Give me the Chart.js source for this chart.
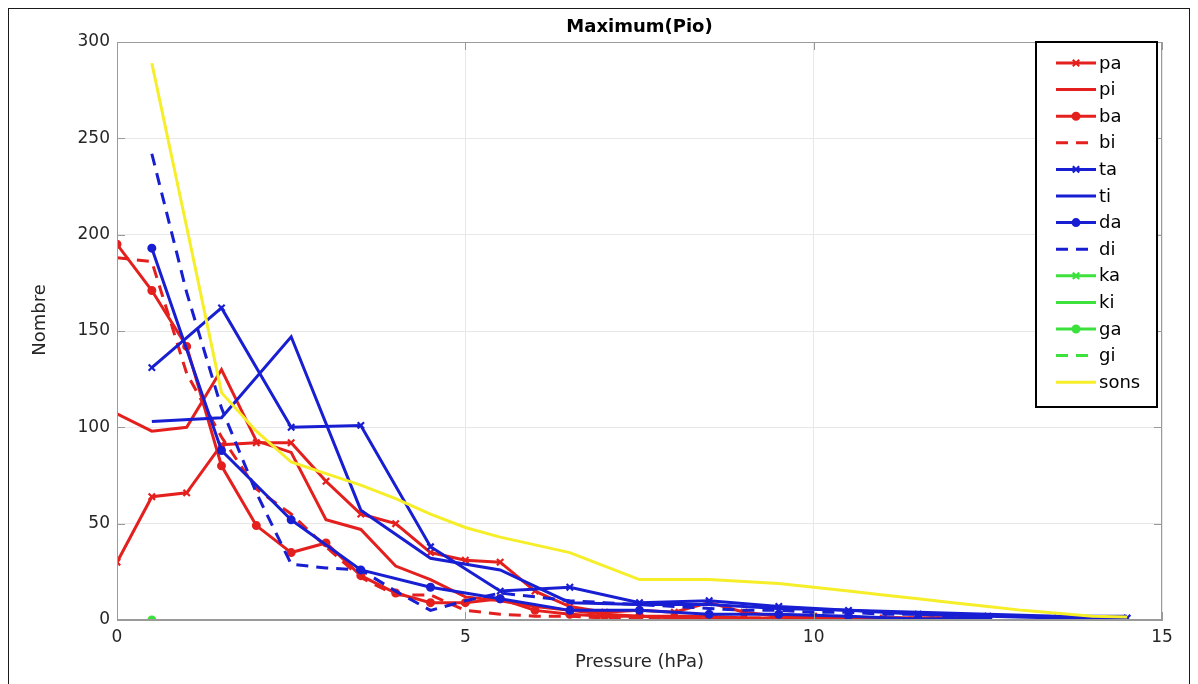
<!DOCTYPE html>
<html><head><meta charset="utf-8">
<script src="https://cdn.jsdelivr.net/npm/chart.js@4/dist/chart.umd.min.js"></script>
<style>
html,body{margin:0;padding:0;background:#fff;overflow:hidden}
#wrap{position:relative;width:1198px;height:684px}
#frame{position:absolute;left:8px;top:8px;width:1180px;height:700px;border:1.5px solid #1a1a1a;pointer-events:none}
</style></head><body>
<div id="wrap"><canvas id="c" width="1198" height="684"></canvas><div id="frame"></div></div>
<script>
// ---- data ----
const chartTitle = 'Maximum(Pio)';
const xLabel = 'Pressure (hPa)';
const yLabel = 'Nombre';
const xTicks = [0, 5, 10, 15];
const yTicks = [0, 50, 100, 150, 200, 250, 300];

const xHalf0 = [0,0.5,1,1.5,2,2.5,3,3.5,4,4.5,5,5.5,6,6.5,7,7.5,8,8.5,9,9.5,10,10.5,11,11.5,12,12.5];
const xBa    = [0,0.5,1,1.5,2,2.5,3,3.5,4,4.5,5,5.5,6,6.5,7,7.5,8,8.5,9,9.5,10,10.5];
const xOdd   = [0.5,1.5,2.5,3.5,4.5,5.5,6.5,7.5,8.5,9.5,10.5,11.5,12.5,13.5,14.5];
const xDa    = [0.5,1.5,2.5,3.5,4.5,5.5,6.5,7.5,8.5,9.5,10.5,11.5,12.5];
const xDi    = [0.5,1,1.5,2,2.5,3,3.5,4,4.5,5,5.5,6,6.5,7,7.5,8,8.5,9,9.5,10,10.5,11,11.5,12,12.5];
const xSons  = [0.5,1,1.5,2,2.5,3,3.5,4,4.5,5,5.5,6,6.5,7,7.5,8,8.5,9,9.5,10,10.5,11,11.5,12,12.5,13,13.5,14,14.5];
const xGa    = [0.5];

const paVals   = [30,64,66,91,92,92,72,55,50,35,31,30,15,7,4,5,4,9,4,2,2,1,1,1,1,1];
const piVals   = [107,98,100,130,93,87,52,47,28,21,12,10,7,5,3,2,2,2,1,1,1,1,1,1,1,1];
const baVals   = [195,171,142,80,49,35,40,23,14,9,9,11,5,3,2,2,1,0.5,0.5,0.5,0.5,0.5];
const biVals   = [188,186,128,95,68,55,38,22,13,13,5,3,2,2,1,1,1,1,1,1,1,1,1,1,1,1];
const taVals   = [131,162,100,101,38,15,17,9,10,7,5,3,2,1,1];
const tiVals   = [103,105,147,57,32,26,9,8,8,6,5,4,3,2,2];
const daVals   = [193,88,52,26,17,11,5,5,3,3,2,0.5,1];
const diVals   = [242,170,110,66,29,27,26,15,5,10,14,12,10,9,8,7,6,5,5,4,4,3,3,2,2];
const kaVals   = [];
const kiVals   = [];
const gaVals   = [0];
const giVals   = [];
const sonsVals = [289,204,118,98,82,76,70,63,55,48,43,39,35,28,21,21,21,20,19,17,15,13,11,9,7,5,3.5,2,1.5];

// ---- styles ----
const RED = 'rgb(228,32,30)', BLUE = 'rgb(24,30,210)', GREEN = 'rgb(60,225,60)', YELLOW = 'rgb(246,238,40)';
const FONT = "'DejaVu Sans', sans-serif";
const pts = (xs, ys) => ys.map((y, i) => ({x: xs[i], y}));

const specs = [
  ['pa', xHalf0, paVals, RED, 'crossRot', false],
  ['pi', xHalf0, piVals, RED, false, false],
  ['ba', xBa, baVals, RED, 'circle', false],
  ['bi', xHalf0, biVals, RED, false, true],
  ['ta', xOdd, taVals, BLUE, 'crossRot', false],
  ['ti', xOdd, tiVals, BLUE, false, false],
  ['da', xDa, daVals, BLUE, 'circle', false],
  ['di', xDi, diVals, BLUE, false, true],
  ['ka', [], kaVals, GREEN, 'crossRot', false],
  ['ki', [], kiVals, GREEN, false, false],
  ['ga', xGa, gaVals, GREEN, 'circle', false],
  ['gi', [], giVals, GREEN, false, true],
  ['sons', xSons, sonsVals, YELLOW, false, false]
];

const datasets = specs.map(([label, xs, ys, color, marker, dashed], i) => ({
  label,
  data: pts(xs, ys),
  borderColor: color,
  backgroundColor: color,
  borderWidth: 3,
  borderDash: dashed ? [12, 8] : [],
  pointStyle: marker || 'circle',
  pointRadius: marker ? (marker === 'circle' ? 3.5 : 4.5) : 0,
  pointBorderWidth: marker === 'circle' ? 2 : 2.2,
  pointBackgroundColor: color,
  pointBorderColor: color,
  pointHoverRadius: 0,
  tension: 0,
  order: specs.length - 1 - i
}));

const decor = {
  id: 'decor',
  afterDraw(chart) {
    const {ctx, chartArea: a, scales: {x, y}} = chart;
    ctx.save();
    // box
    ctx.strokeStyle = '#9a9a9a'; ctx.lineWidth = 1; ctx.setLineDash([]);
    ctx.strokeRect(a.left + 0.5, a.top + 0.5, a.right - a.left - 1, a.bottom - a.top - 1);
    // inward ticks
    ctx.beginPath();
    yTicks.forEach(v => { const p = Math.round(y.getPixelForValue(v)) + 0.5;
      ctx.moveTo(a.left, p); ctx.lineTo(a.left + 8, p); ctx.moveTo(a.right, p); ctx.lineTo(a.right - 8, p); });
    xTicks.forEach(v => { const p = Math.round(x.getPixelForValue(v)) + 0.5;
      ctx.moveTo(p, a.bottom); ctx.lineTo(p, a.bottom - 8); ctx.moveTo(p, a.top); ctx.lineTo(p, a.top + 8); });
    ctx.stroke();
    // title
    ctx.fillStyle = '#000'; ctx.font = "bold 18px " + FONT; ctx.textAlign = 'center'; ctx.textBaseline = 'middle';
    ctx.fillText(chartTitle, (a.left + a.right) / 2, 27);
    // y axis label
    ctx.save();
    ctx.translate(40, 320); ctx.rotate(-Math.PI / 2);
    ctx.fillStyle = '#262626'; ctx.font = "18px " + FONT;
    ctx.fillText(yLabel, 0, 0);
    ctx.restore();
    // legend
    const L = 1036, T = 42, R = 1157, B = 407;
    ctx.fillStyle = '#fff'; ctx.fillRect(L, T, R - L, B - T);
    ctx.strokeStyle = '#000'; ctx.lineWidth = 2; ctx.strokeRect(L, T, R - L, B - T);
    chart.data.datasets.forEach((ds, i) => {
      const cy = 63 + i * 26.6;
      ctx.strokeStyle = ds.borderColor; ctx.lineWidth = 3; ctx.setLineDash(ds.borderDash);
      ctx.beginPath(); ctx.moveTo(1056, cy); ctx.lineTo(1096, cy); ctx.stroke();
      ctx.setLineDash([]);
      if (ds.pointRadius > 0) {
        ctx.fillStyle = ds.borderColor;
        ctx.lineWidth = ds.pointBorderWidth;
        Chart.helpers.drawPoint(ctx, {pointStyle: ds.pointStyle, radius: ds.pointRadius, borderWidth: ds.pointBorderWidth, rotation: 0}, 1076, cy);
      }
      ctx.fillStyle = '#000'; ctx.font = "18px " + FONT; ctx.textAlign = 'left'; ctx.textBaseline = 'middle';
      ctx.fillText(ds.label, 1099, cy + 1);
    });
    ctx.restore();
  }
};

new Chart(document.getElementById('c'), {
  type: 'line',
  data: {datasets},
  plugins: [decor],
  options: {
    responsive: false,
    devicePixelRatio: 1,
    animation: false,
    layout: {padding: {top: 42, right: 36, left: 0, bottom: 0}},
    plugins: {legend: {display: false}, tooltip: {enabled: false}, title: {display: false}},
    scales: {
      x: {
        type: 'linear', min: 0, max: 15,
        afterFit: s => { s.height = 64; },
        afterBuildTicks: s => { s.ticks = xTicks.map(v => ({value: v})); },
        ticks: {color: '#262626', font: {family: FONT, size: 17}, padding: 7, maxRotation: 0},
        grid: {color: '#e8e8e8', drawTicks: false},
        border: {color: '#9a9a9a'},
        title: {display: true, text: xLabel, color: '#262626', font: {family: FONT, size: 18}, padding: {top: 0, bottom: 11}}
      },
      y: {
        type: 'linear', min: 0, max: 300,
        afterFit: s => { s.width = 117; },
        afterBuildTicks: s => { s.ticks = yTicks.map(v => ({value: v})); },
        ticks: {color: '#262626', font: {family: FONT, size: 17}, padding: 7},
        grid: {color: '#e8e8e8', drawTicks: false},
        border: {color: '#9a9a9a'},
        title: {display: false}
      }
    }
  }
});
</script>
</body></html>
